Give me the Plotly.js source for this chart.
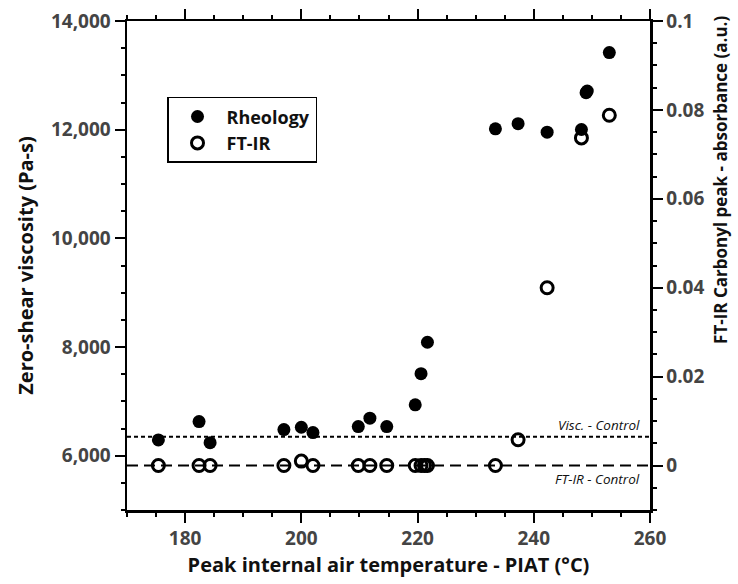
<!DOCTYPE html>
<html>
<head>
<meta charset="utf-8">
<script src="https://cdn.plot.ly/plotly-3.0.1.min.js"></script>
<style>html,body{margin:0;padding:0;background:#fff;}#chart{width:738px;height:584px;}</style>
</head>
<body>
<div id="chart"></div>
<script>
// Rheology (zero-shear viscosity, Pa-s) vs PIAT (°C)
const rheoTemp = [175.4, 182.4, 184.3, 197.0, 200.0, 202.0, 209.8, 211.8, 214.7, 219.6, 220.6, 221.7, 233.4, 237.3, 242.3, 248.2, 249.0, 249.2, 253.0];
const rheoVisc = [6290, 6628, 6240, 6480, 6523, 6425, 6535, 6690, 6535, 6936, 7509, 8087, 12016, 12110, 11953, 12003, 12680, 12710, 13419];
// FT-IR carbonyl peak absorbance (a.u.) vs PIAT (°C)
const ftirTemp = [175.4, 182.4, 184.3, 197.0, 200.0, 202.0, 209.8, 211.8, 214.7, 219.6, 220.6, 221.2, 221.7, 233.4, 237.3, 242.3, 248.2, 253.0];
const ftirAbs = [0, 0, 0, 0, 0.0010, 0, 0, 0, 0, 0, 0, 0, 0, 0, 0.0058, 0.040, 0.0737, 0.0788];
// Control reference levels
const viscControl = 6350;
const ftirControl = 0;
const xTicks = [180, 200, 220, 240, 260];
const xTickText = ["180", "200", "220", "240", "260"];
const yTicks = [6000, 8000, 10000, 12000, 14000];
const yTickText = ["6,000", "8,000", "10,000", "12,000", "14,000"];
const y2Ticks = [0, 0.02, 0.04, 0.06, 0.08, 0.1];
const y2TickText = ["0", "0.02", "0.04", "0.06", "0.08", "0.1"];

const FONT = "Open Sans, Noto Sans, DejaVu Sans, sans-serif";
const bold = arr => arr.map(s => "<b>" + s + "</b>");
const tickFont = {family: FONT, size: 19, color: "#444"};
const titleFont = {family: FONT, size: 20, color: "#111"};

const traces = [
  {x: rheoTemp, y: rheoVisc, name: "<b>Rheology</b>", type: "scatter", mode: "markers",
   marker: {symbol: "circle", size: 13, color: "#000"}, yaxis: "y"},
  {x: ftirTemp, y: ftirAbs, name: "<b>FT-IR</b>", type: "scatter", mode: "markers",
   marker: {symbol: "circle-open", size: 12, color: "#000", line: {width: 3, color: "#000"}}, yaxis: "y2"}
];

const axisCommon = {
  showline: true, linecolor: "#000", linewidth: 2.5, ticks: "outside", ticklen: 10, tickwidth: 2,
  tickcolor: "#000", showgrid: false, zeroline: false, tickfont: tickFont
};

const layout = {
  width: 738, height: 584,
  margin: {l: 127, r: 88, t: 21, b: 74},
  paper_bgcolor: "#fff", plot_bgcolor: "#fff",
  showlegend: true,
  legend: {x: 0.0765, y: 0.845, xanchor: "left", yanchor: "top", bgcolor: "#fff",
           bordercolor: "#000", borderwidth: 1.5, font: {family: FONT, size: 18, color: "#111"},
           itemwidth: 48, tracegroupgap: 0},
  xaxis: Object.assign({}, axisCommon, {
    range: [170, 260], tickvals: xTicks, ticktext: bold(xTickText), mirror: "ticks",
    minor: {dtick: 5, ticklen: 4, tickwidth: 2, ticks: "outside", tickcolor: "#000"},
    title: {text: "<b>Peak internal air temperature - PIAT (°C)</b>", font: titleFont, standoff: 8}
  }),
  yaxis: Object.assign({}, axisCommon, {
    range: [5000, 14000], tickvals: yTicks, ticktext: bold(yTickText),
    minor: {dtick: 500, tick0: 5000, ticklen: 4, tickwidth: 2, ticks: "outside", tickcolor: "#000"},
    title: {text: "<b>Zero-shear viscosity (Pa-s)</b>", font: titleFont, standoff: 12}
  }),
  yaxis2: Object.assign({}, axisCommon, {
    overlaying: "y", side: "right", range: [-0.01, 0.1], tickvals: y2Ticks, ticktext: bold(y2TickText),
    minor: {dtick: 0.005, tick0: 0, ticklen: 4, tickwidth: 2, ticks: "outside", tickcolor: "#000"}
  }),
  shapes: [
    {type: "line", xref: "paper", x0: 0, x1: 1, yref: "y", y0: viscControl, y1: viscControl,
     line: {color: "#000", width: 2, dash: "4px,3px"}, layer: "below"},
    {type: "line", xref: "paper", x0: 0, x1: 1, yref: "y2", y0: ftirControl, y1: ftirControl,
     line: {color: "#000", width: 2, dash: "11px,6px"}, layer: "below"}
  ],
  annotations: [
    {xref: "paper", x: 0.985, yref: "y", y: viscControl, text: "<i>Visc. - Control</i>", showarrow: false,
     xanchor: "right", yanchor: "bottom", yshift: 1, font: {family: FONT, size: 13.5, color: "#111"}},
    {xref: "paper", x: 0.985, yref: "y2", y: ftirControl, text: "<i>FT-IR - Control</i>", showarrow: false,
     xanchor: "right", yanchor: "top", yshift: -2, font: {family: FONT, size: 13.5, color: "#111"}},
    {xref: "paper", x: 1, xshift: 71, xanchor: "center", yref: "paper", y: 0.675, yanchor: "middle",
     text: "<b>FT-IR Carbonyl peak - absorbance (a.u.)</b>", textangle: -90, showarrow: false,
     font: {family: FONT, size: 17, color: "#111"}}
  ]
};

Plotly.newPlot("chart", traces, layout, {displayModeBar: false, staticPlot: true});
</script>
</body>
</html>
